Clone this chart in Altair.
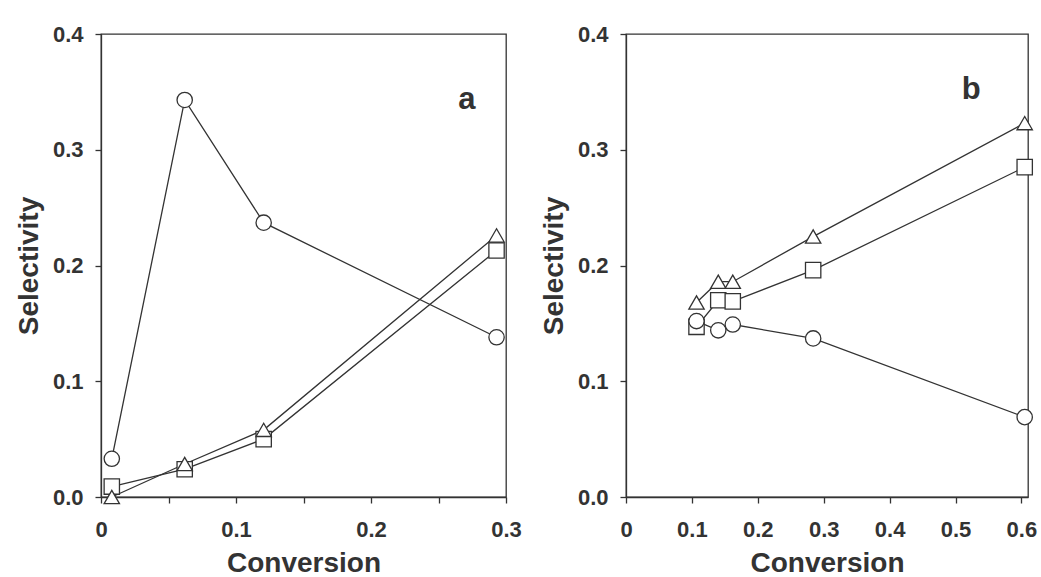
import altair as alt
import pandas as pd

# ---- Panel a data ----
a_circle_x = [0.008, 0.062, 0.1205, 0.293]
a_circle_y = [0.033, 0.343, 0.237, 0.138]
a_square_x = [0.008, 0.062, 0.1205, 0.293]
a_square_y = [0.009, 0.024, 0.050, 0.213]
a_tri_x = [0.008, 0.062, 0.1205, 0.293]
a_tri_y = [0.0, 0.0285, 0.058, 0.226]

# ---- Panel b data ----
b_circle_x = [0.107, 0.140, 0.162, 0.284, 0.605]
b_circle_y = [0.152, 0.144, 0.149, 0.137, 0.069]
b_square_x = [0.107, 0.140, 0.162, 0.284, 0.605]
b_square_y = [0.147, 0.170, 0.169, 0.196, 0.285]
b_tri_x = [0.107, 0.140, 0.162, 0.284, 0.605]
b_tri_y = [0.168, 0.186, 0.186, 0.225, 0.323]

# drawing order: squares first, then triangles, circles on top
series_names = ["square", "triangle", "circle"]
shape_range = ["square", "triangle-up", "circle"]

panel_labels = ["a", "b"]
panel_label_x = [0.271, 0.524]
panel_label_y = [0.343, 0.352]

y_ticks = [0.0, 0.1, 0.2, 0.3, 0.4]
a_x_ticks = [0.0, 0.05, 0.1, 0.15, 0.2, 0.25, 0.3]
b_x_ticks = [0.0, 0.1, 0.2, 0.3, 0.4, 0.5, 0.6]

INK = "#333333"
FONT = "Liberation Sans"


def make_df(xs_list, ys_list):
    rows = []
    for name, xs, ys in zip(series_names, xs_list, ys_list):
        for i, (x, y) in enumerate(zip(xs, ys)):
            rows.append({"series": name, "x": x, "y": y, "order": i})
    return pd.DataFrame(rows)


df_a = make_df([a_square_x, a_tri_x, a_circle_x], [a_square_y, a_tri_y, a_circle_y])
df_b = make_df([b_square_x, b_tri_x, b_circle_x], [b_square_y, b_tri_y, b_circle_y])


def panel(df, xmax, xticks, label_idx, width, height, minor):
    if minor:
        label_expr = ("datum.value == 0 ? '0' : (round(datum.value*100) % 10 == 0 ? "
                      "format(datum.value, '.1f') : '')")
    else:
        label_expr = "datum.value == 0 ? '0' : format(datum.value, '.1f')"
    x_enc = alt.X("x:Q",
                  scale=alt.Scale(domain=[0, xmax], nice=False, zero=False),
                  axis=alt.Axis(values=xticks, labelExpr=label_expr, title="Conversion"))
    y_enc = alt.Y("y:Q",
                  scale=alt.Scale(domain=[0, 0.4], nice=False),
                  axis=alt.Axis(values=y_ticks, format=".1f", title="Selectivity"))
    base = alt.Chart(df)
    lines = base.mark_line(color=INK, strokeWidth=1.3).encode(
        x=x_enc, y=y_enc, detail="series:N", order="order:Q")
    pts = base.mark_point(filled=True, fill="white", stroke=INK, strokeWidth=1.3,
                          size=235, opacity=1).encode(
        x=x_enc, y=y_enc,
        shape=alt.Shape("series:N", scale=alt.Scale(domain=series_names, range=shape_range),
                        legend=None))
    lab_df = pd.DataFrame({"t": [panel_labels[label_idx]],
                           "x": [panel_label_x[label_idx]],
                           "y": [panel_label_y[label_idx]]})
    lab = alt.Chart(lab_df).mark_text(font=FONT, fontSize=31, fontWeight="bold",
                                      color=INK, align="center", baseline="middle").encode(
        x=alt.X("x:Q", scale=alt.Scale(domain=[0, xmax], nice=False, zero=False)),
        y=alt.Y("y:Q", scale=alt.Scale(domain=[0, 0.4], nice=False)),
        text="t:N")
    return alt.layer(lines, pts, lab).properties(width=width, height=height)


pa = panel(df_a, 0.3, a_x_ticks, 0, 405, 463, True)
pb = panel(df_b, 0.61, b_x_ticks, 1, 402, 463, False)

chart = alt.hconcat(pa, pb, spacing=17).properties(
    padding={"left": 14, "top": 22, "right": 0, "bottom": 0},
    background="white",
).configure_view(
    stroke=INK, strokeWidth=1.3
).configure_axis(
    grid=False,
    labelFont=FONT, labelFontSize=22, labelFontWeight="bold", labelColor=INK,
    titleFont=FONT, titleFontSize=28, titleFontWeight="bold", titleColor=INK,
    domainColor=INK, domainWidth=1.3, tickColor=INK, tickWidth=1.3, tickSize=6,
    labelPadding=12, titlePadding=9, labelFlush=False, labelOverlap=False,
).configure_axisX(
    labelPadding=16, titlePadding=9,
)

chart.save("out.html", embed_options={"renderer": "svg", "actions": False})
